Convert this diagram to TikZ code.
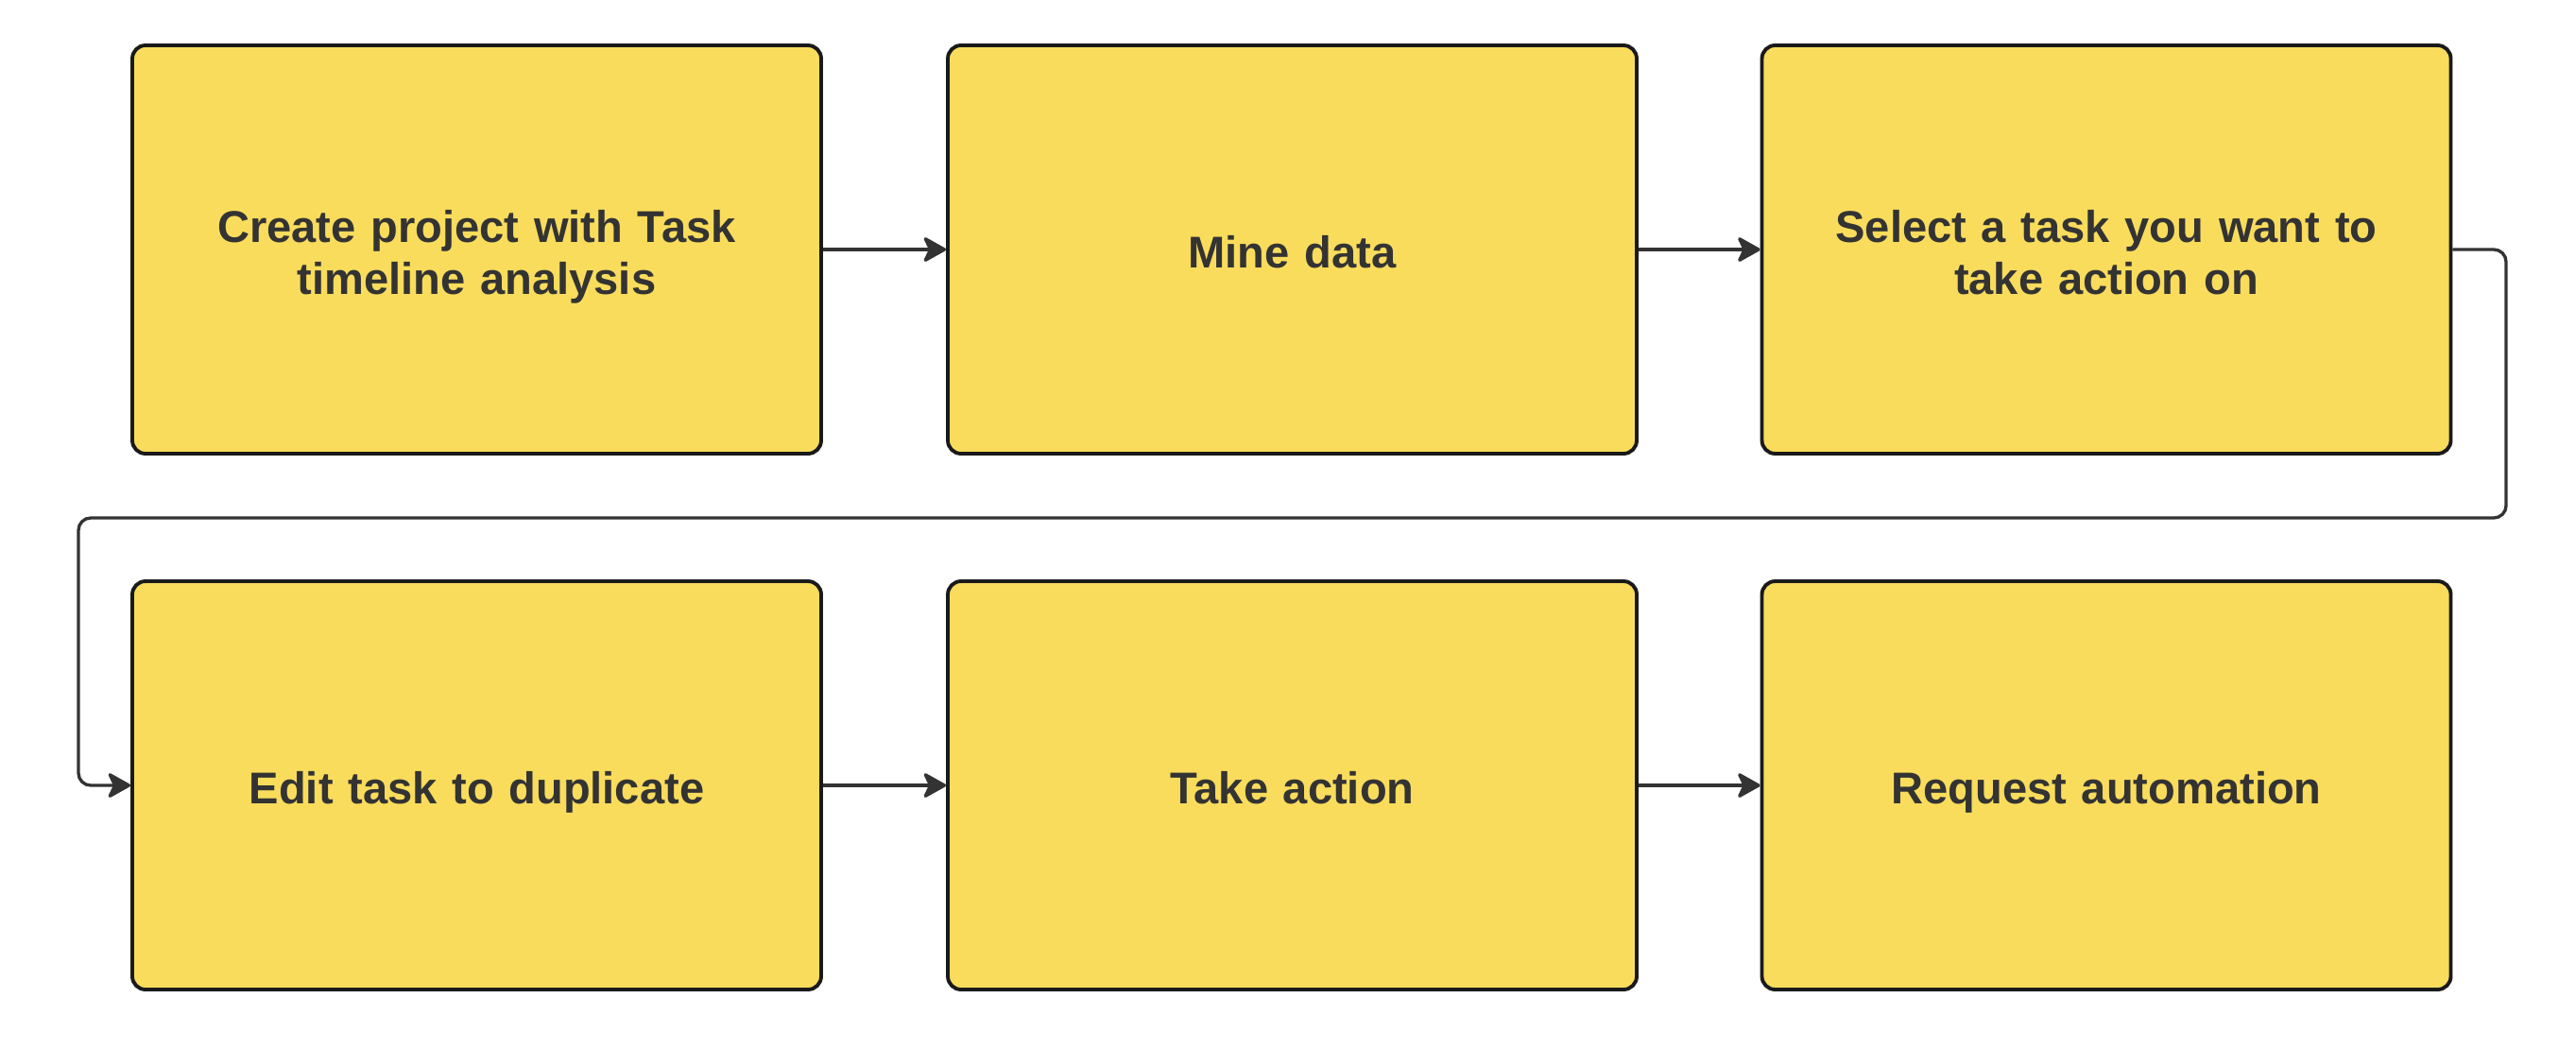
\documentclass[tikz,border=0pt]{standalone}
\usepackage{fontspec}
\setmainfont{Liberation Sans}
\usetikzlibrary{positioning,arrows.meta}
\definecolor{Sun}{RGB}{249,220,92}
\definecolor{Edge}{RGB}{26,26,26}
\definecolor{Ink}{RGB}{51,51,51}

\begin{document}
\begin{tikzpicture}[
  stepbox/.style={rounded corners=.14cm,draw=Edge,line width=1.1pt,fill=Sun,minimum width=7.29cm,minimum height=4.32cm,text width=6.8cm,align=center,text=Ink,font=\fontsize{13.4}{15.5}\selectfont\bfseries,execute at begin node=\rule{0pt}{.56cm},execute at end node=\strut},
  flow/.style={-{Stealth[length=.27cm,width=.3cm,inset=.07cm,round]},line width=.95pt,Ink}]
\useasboundingbox (0,0) rectangle (27.26,11.10);
\node[stepbox] (s1) at (5.045,8.46) {Create project with Task\\timeline analysis};
\node[stepbox] (s2) at (13.675,8.46) {Mine data};
\node[stepbox] (s3) at (22.29,8.46) {Select a task you want to\\take action on};
\node[stepbox] (s4) at (5.045,2.79) {Edit task to duplicate};
\node[stepbox] (s5) at (13.675,2.79) {Take action};
\node[stepbox] (s6) at (22.29,2.79) {Request automation};
\coordinate (turnR) at (26.52,5.62);
\coordinate (turnL) at (0.83,5.62);
\draw[flow] (s1) -- (s2);
\draw[flow] (s2) -- (s3);
\draw[flow,rounded corners=.13cm] (s3.east) -| (turnR) -- (turnL) |- (s4.west);
\draw[flow] (s4) -- (s5);
\draw[flow] (s5) -- (s6);
\end{tikzpicture}
\end{document}
